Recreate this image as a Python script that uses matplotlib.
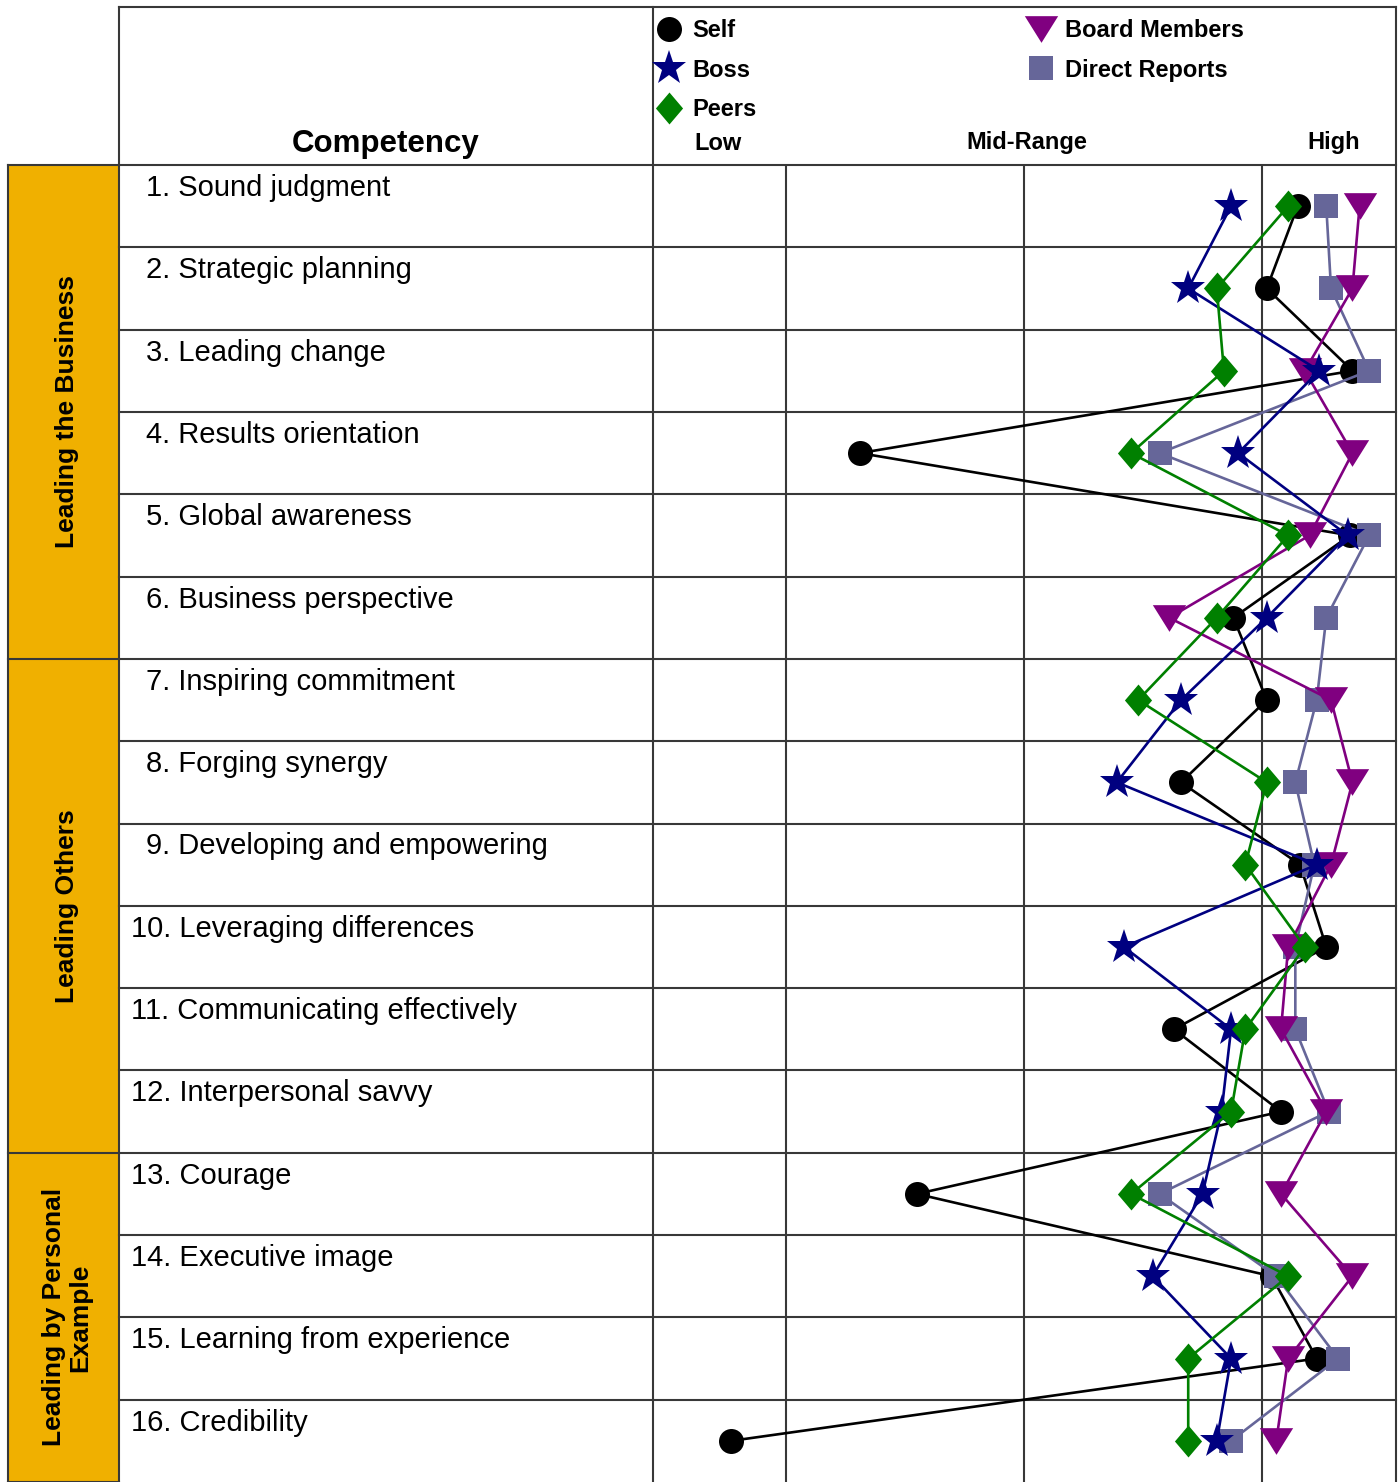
import numpy as np
import matplotlib.pyplot as plt
from matplotlib.lines import Line2D

plt.rcParams['font.family'] = ['Liberation Sans', 'DejaVu Sans']

competencies = ["Sound judgment", "Strategic planning", "Leading change",
                "Results orientation", "Global awareness", "Business perspective",
                "Inspiring commitment", "Forging synergy", "Developing and empowering",
                "Leveraging differences", "Communicating effectively",
                "Interpersonal savvy", "Courage", "Executive image",
                "Learning from experience", "Credibility"]
sections = ["Leading the Business", "Leading Others", "Leading by Personal\nExample"]
section_sizes = [6, 6, 4]
scale_labels = ["Low", "Mid-Range", "High"]

# ratings on the chart scale (grid lines sit at 2, 3, 4)
self_r = [4.15, 4.02, 4.38, 2.31, 4.37, 3.88, 4.02, 3.66, 4.16, 4.27, 3.63, 4.08, 2.55, 4.04, 4.23, 1.77]
boss = [3.87, 3.69, 4.24, 3.90, 4.36, 4.02, 3.66, 3.39, 4.23, 3.42, 3.87, 3.83, 3.75, 3.54, 3.87, 3.81]
peers = [4.11, 3.81, 3.84, 3.45, 4.11, 3.81, 3.48, 4.02, 3.93, 4.18, 3.93, 3.87, 3.45, 4.11, 3.69, 3.69]
board = [4.41, 4.38, 4.18, 4.38, 4.20, 3.61, 4.29, 4.38, 4.29, 4.11, 4.08, 4.27, 4.08, 4.38, 4.11, 4.06]
direct = [4.27, 4.29, 4.45, 3.57, 4.45, 4.27, 4.23, 4.14, 4.22, 4.14, 4.14, 4.28, 3.57, 4.06, 4.32, 3.87]

W, H = 1400, 1482
fig = plt.figure(figsize=(W / 100, H / 100), dpi=100)

# background axes in pixel units for the table frame and texts
bg = fig.add_axes([0, 0, 1, 1])
bg.set_xlim(0, W)
bg.set_ylim(H, 0)
bg.axis('off')

top, head = 7, 165
row_h = (H - head) / len(competencies)
lc = '#383838'

# orange section boxes
start = 0
for name, n in zip(sections, section_sizes):
    y0 = head + start * row_h
    y1 = head + (start + n) * row_h
    bg.fill_between([8, 119], y0, y1, color='#F0B000', lw=0)
    bg.text(67, (y0 + y1) / 2, name, rotation=90, ha='center', va='center',
            fontsize=19, fontweight='bold', linespacing=1.1)
    bg.plot([8, 119], [y1, y1], color=lc, lw=1.5)
    start += n

bg.plot([119, 1396], [top, top], color=lc, lw=1.5)
bg.plot([8, 1396], [head, head], color=lc, lw=1.5)
for x in [119, 653, 1396]:
    bg.plot([x, x], [top, H], color=lc, lw=1.5)
bg.plot([8, 8], [head, H], color=lc, lw=1.5)
for k in range(1, len(competencies)):
    y = head + k * row_h
    bg.plot([119, 1396], [y, y], color=lc, lw=1.5)

bg.text(386, 152, "Competency", ha='center', va='baseline', fontsize=22.5, fontweight='bold')
for i, name in enumerate(competencies):
    x = 146 if i < 9 else 131
    bg.text(x, head + i * row_h + 9, f"{i + 1}. {name}", ha='left', va='top', fontsize=21)

for x, lab in zip([718, 1027, 1334], scale_labels):
    bg.text(x, 143, lab, ha='center', va='center', fontsize=17, fontweight='bold')

# plot area
xmin, xmax = 2 - 133 / 238, 4 + 134 / 238
ax = fig.add_axes([653 / W, 0, (1396 - 653) / W, (H - head) / H])
ax.patch.set_alpha(0)
ax.set_xlim(xmin, xmax)
ax.set_ylim(len(competencies) + 0.5, 0.5)
ax.axis('off')
for v in [2, 3, 4]:
    ax.axvline(v, color=lc, lw=1.5, zorder=1)

rows = np.arange(1, len(competencies) + 1)
diamond = [(0, 1), (0.85, 0), (0, -1), (-0.85, 0), (0, 1)]
tri = [(-1, 0.8), (1, 0.8), (0, -0.8), (-1, 0.8)]

series = [
    ("Self", self_r, 'black', 'o', 18, 3),
    ("Boss", boss, '#000080', '*', 26, 6),
    ("Peers", peers, '#008000', diamond, 23, 7),
    ("Board Members", board, '#800080', tri, 24, 5),
    ("Direct Reports", direct, '#666699', 's', 17, 4),
]
handles = []
for label, vals, col, mk, ms, z in series:
    ax.plot(vals, rows, color=col, lw=1.9, marker=mk, markersize=ms,
            markeredgewidth=0, zorder=z, clip_on=False)
    handles.append(Line2D([], [], linestyle='none', color=col, marker=mk,
                          markersize=ms, markeredgewidth=0))

fig.legend(handles, [s[0] for s in series], loc='upper left',
           bbox_to_anchor=(657 / W, 1 - 19 / H), ncol=2, frameon=False,
           prop={'size': 17, 'weight': 'bold'}, handlelength=1.0,
           handletextpad=0.5, labelspacing=0.7, columnspacing=11.55,
           borderaxespad=0, borderpad=0)

fig.savefig('out.png', dpi=100)
